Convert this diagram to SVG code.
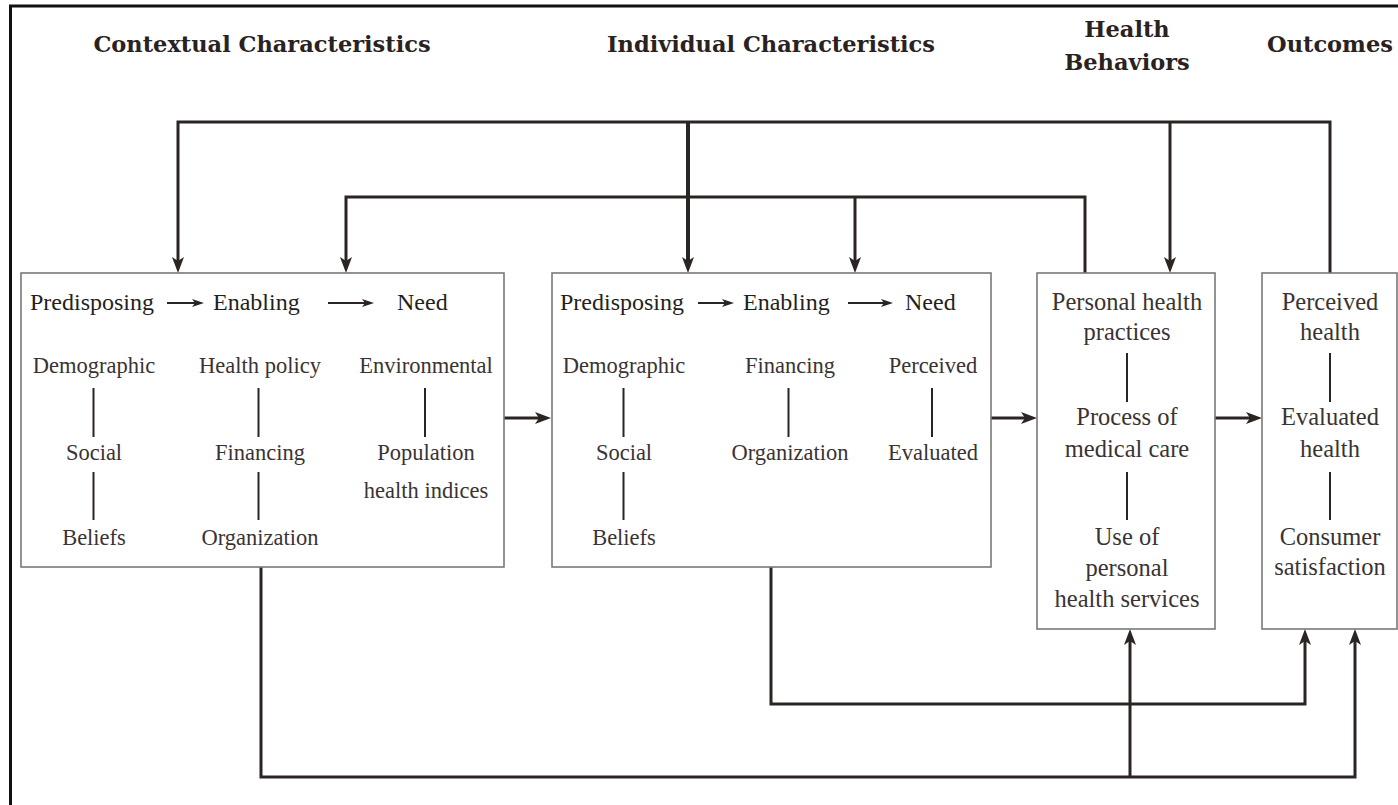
<svg xmlns="http://www.w3.org/2000/svg" width="1398" height="805" viewBox="0 0 1398 805">
<style>
.hdr{font-family:"DejaVu Serif","Liberation Serif",serif;font-weight:bold;font-size:22.5px;fill:#2a221f;text-anchor:middle}
.ttl{font-family:"Liberation Serif",serif;font-size:24px;fill:#231f20}
.itm{font-family:"Liberation Serif",serif;font-size:22.5px;fill:#3a3333;text-anchor:middle}
.itm2{font-family:"Liberation Serif",serif;font-size:24.5px;fill:#3a3333;text-anchor:middle}
.box{fill:#fff;stroke:#7a7878;stroke-width:1.6}
.sep{stroke:#2a2422;stroke-width:2;fill:none}
.con{stroke:#2a2422;stroke-width:3;fill:none}
.frame{stroke:#111;stroke-width:3;fill:none}
</style>
<defs>
<marker id="ah" markerUnits="userSpaceOnUse" markerWidth="16" markerHeight="12" viewBox="0 0 16 12" refX="4" refY="6" orient="auto">
<path d="M0,0 L16,6 L0,12 L4,6 z" fill="#2a2422"/>
</marker>
<marker id="ahs" markerUnits="userSpaceOnUse" markerWidth="12" markerHeight="8" viewBox="0 0 12 8" refX="3" refY="4" orient="auto">
<path d="M0,0 L12,4 L0,8 L3,4 z" fill="#2a2422"/>
</marker>
</defs>
<rect width="1398" height="805" fill="#fff"/>
<path class="frame" d="M10.5,805 V6 H1398"/>

<g id="headers">
<text class="hdr" x="262" y="52">Contextual Characteristics</text>
<text class="hdr" x="771" y="52">Individual Characteristics</text>
<text class="hdr" x="1127" y="37">Health</text>
<text class="hdr" x="1127" y="70">Behaviors</text>
<text class="hdr" x="1330" y="52">Outcomes</text>
</g>

<g id="connectors">
<path class="con" d="M1330,273 V122 H178 V261" marker-end="url(#ah)"/>
<path class="con" d="M688,122 V261" style="stroke-width:4" marker-end="url(#ah)"/>
<path class="con" d="M1170,122 V261" marker-end="url(#ah)"/>
<path class="con" d="M1085,273 V197 H346 V261" marker-end="url(#ah)"/>
<path class="con" d="M855,197 V261" marker-end="url(#ah)"/>
<path class="con" d="M504,418 H539" marker-end="url(#ah)"/>
<path class="con" d="M991,418 H1025" marker-end="url(#ah)"/>
<path class="con" d="M1215,418 H1250" marker-end="url(#ah)"/>
<path class="con" d="M261,567 V777 H1355 V641" marker-end="url(#ah)"/>
<path class="con" d="M1130,777 V641" marker-end="url(#ah)"/>
<path class="con" d="M771,567 V704 H1305 V641" marker-end="url(#ah)"/>
</g>

<g id="contextual">
<rect class="box" x="21" y="273" width="483" height="294"/>
<text class="ttl" x="30" y="310">Predisposing</text>
<path class="sep" d="M167,303 H195" marker-end="url(#ahs)"/>
<text class="ttl" x="213" y="310">Enabling</text>
<path class="sep" d="M328,303 H365" marker-end="url(#ahs)"/>
<text class="ttl" x="397" y="310">Need</text>
<text class="itm" x="94" y="373">Demographic</text>
<path class="sep" d="M93.5,388 V437"/>
<text class="itm" x="94" y="460">Social</text>
<path class="sep" d="M93.5,472 V520"/>
<text class="itm" x="94" y="545">Beliefs</text>
<text class="itm" x="260" y="373">Health policy</text>
<path class="sep" d="M258.5,388 V437"/>
<text class="itm" x="260" y="460">Financing</text>
<path class="sep" d="M258.5,472 V520"/>
<text class="itm" x="260" y="545">Organization</text>
<text class="itm" x="426" y="373">Environmental</text>
<path class="sep" d="M425,388 V437"/>
<text class="itm" x="426" y="460">Population</text>
<text class="itm" x="426" y="498">health indices</text>
</g>

<g id="individual">
<rect class="box" x="552" y="273" width="439" height="294"/>
<text class="ttl" x="560" y="310">Predisposing</text>
<path class="sep" d="M698,303 H725" marker-end="url(#ahs)"/>
<text class="ttl" x="743" y="310">Enabling</text>
<path class="sep" d="M848,303 H884" marker-end="url(#ahs)"/>
<text class="ttl" x="905" y="310">Need</text>
<text class="itm" x="624" y="373">Demographic</text>
<path class="sep" d="M623.5,388 V437"/>
<text class="itm" x="624" y="460">Social</text>
<path class="sep" d="M623.5,472 V520"/>
<text class="itm" x="624" y="545">Beliefs</text>
<text class="itm" x="790" y="373">Financing</text>
<path class="sep" d="M788.5,388 V437"/>
<text class="itm" x="790" y="460">Organization</text>
<text class="itm" x="933" y="373">Perceived</text>
<path class="sep" d="M932,388 V437"/>
<text class="itm" x="933" y="460">Evaluated</text>
</g>

<g id="behaviors">
<rect class="box" x="1037" y="273" width="178" height="356"/>
<text class="itm2" x="1127" y="310">Personal health</text>
<text class="itm2" x="1127" y="340">practices</text>
<path class="sep" d="M1127,353 V402"/>
<text class="itm2" x="1127" y="425">Process of</text>
<text class="itm2" x="1127" y="457">medical care</text>
<path class="sep" d="M1127,472 V520"/>
<text class="itm2" x="1127" y="545">Use of</text>
<text class="itm2" x="1127" y="576">personal</text>
<text class="itm2" x="1127" y="607">health services</text>
</g>

<g id="outcomes">
<rect class="box" x="1262" y="273" width="135" height="356"/>
<text class="itm2" x="1330" y="310">Perceived</text>
<text class="itm2" x="1330" y="340">health</text>
<path class="sep" d="M1330,353 V402"/>
<text class="itm2" x="1330" y="425">Evaluated</text>
<text class="itm2" x="1330" y="457">health</text>
<path class="sep" d="M1330,472 V520"/>
<text class="itm2" x="1330" y="545">Consumer</text>
<text class="itm2" x="1330" y="575">satisfaction</text>
</g>
</svg>
